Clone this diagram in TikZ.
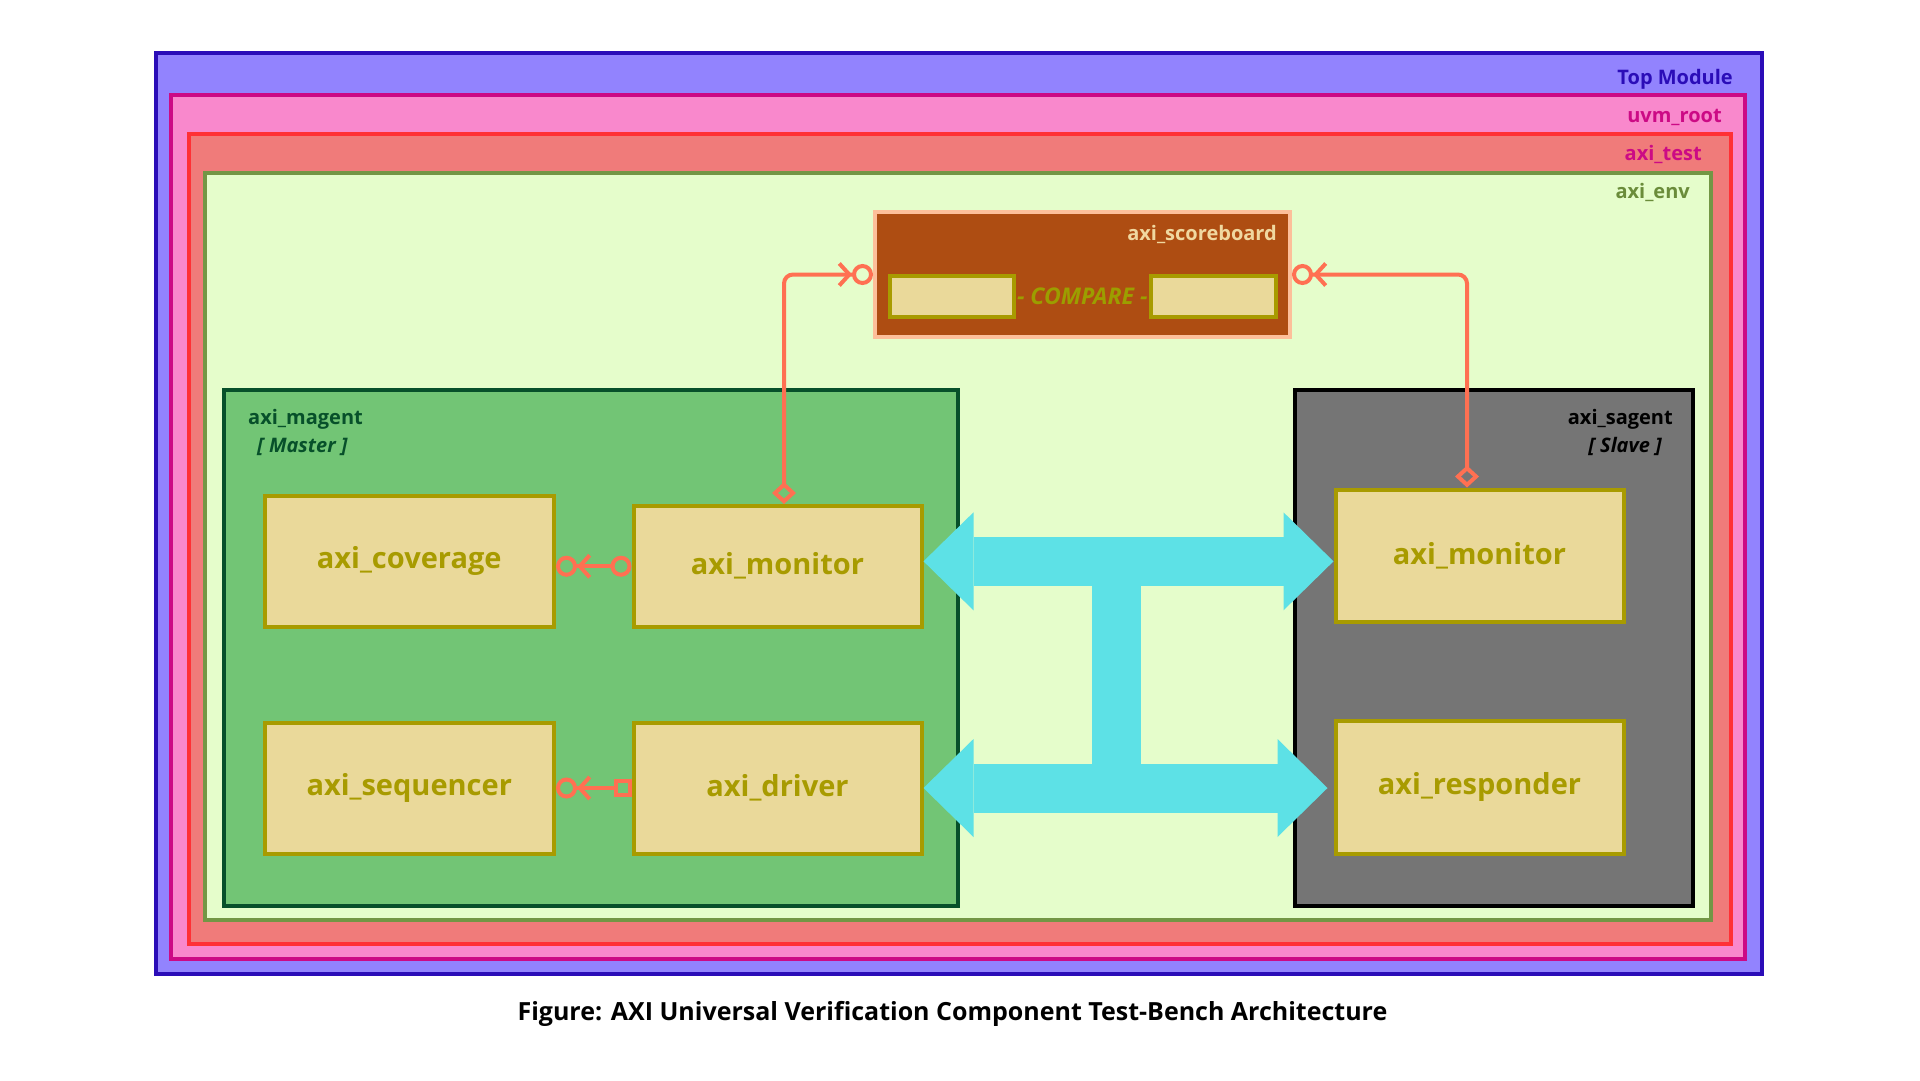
\documentclass[tikz,border=0pt]{standalone}
\usepackage{fontspec}
\setmainfont{Open Sans}
\usepackage{tikz}
\usetikzlibrary{arrows.meta,positioning,calc}
\definecolor{topfill}{HTML}{9283FE}
\definecolor{topline}{HTML}{2B0DB8}
\definecolor{rootfill}{HTML}{F988CC}
\definecolor{rootline}{HTML}{CC0A85}
\definecolor{testfill}{HTML}{F07B7A}
\definecolor{testline}{HTML}{FF3035}
\definecolor{envfill}{HTML}{E5FDCB}
\definecolor{envline}{HTML}{739645}
\definecolor{envtext}{HTML}{6A8C3A}
\definecolor{sbfill}{HTML}{AE4D12}
\definecolor{sbline}{HTML}{FDBF9A}
\definecolor{sbtext}{HTML}{F0D8A0}
\definecolor{mafill}{HTML}{72C575}
\definecolor{maline}{HTML}{07502A}
\definecolor{safill}{HTML}{757575}
\definecolor{compfill}{HTML}{EAD99A}
\definecolor{compline}{HTML}{A89B00}
\definecolor{cmptext}{HTML}{9C9E00}
\definecolor{linkc}{HTML}{FF7052}
\definecolor{busc}{HTML}{5DE1E6}
\newcommand{\framefont}{\fontsize{20}{24}\selectfont\bfseries}
\newcommand{\cmpfont}{\fontsize{23}{27}\selectfont\bfseries\itshape}
\newcommand{\boxfont}{\fontsize{29}{34}\selectfont\bfseries}
\newcommand{\capfont}{\fontsize{25}{30}\selectfont\bfseries}
\tikzset{conn/.style = {
    draw=linkc,
    line width=4pt,
    rounded corners=9pt,
  }
}
\tikzset{bus/.style = {
    draw=busc,
    line width=49pt,
    {Triangle[line width'=0pt, length=50pt, width=98pt]}-{Triangle[line width'=0pt, length=50pt, width=98pt]},
  }
}

\begin{document}
\begin{tikzpicture}[x=1pt, y=-1pt]
  \useasboundingbox[fill=white] (0,0) rectangle (1920,1080);
  % vertices
  \tikzstyle{frame} = [rectangle, draw, line width=4pt, inner sep=0pt]
  \tikzstyle{framelabel} = [anchor=base east, inner sep=0pt, font=\framefont]
  \tikzstyle{component} = [rectangle, draw=compline, fill=compfill, line width=4pt, minimum width=288pt, text=compline, font=\boxfont]
  \tikzstyle{slot} = [rectangle, draw=compline, fill=compfill, line width=4pt, minimum height=41pt]

  \node[frame, fill=topfill, draw=topline, minimum width=1606.5pt, minimum height=920.5pt] (top) at (958.75,513.25) {};
  \node[framelabel, text=topline] (toplabel) at (1733,84) {Top Module};

  \node[frame, fill=rootfill, draw=rootline, minimum width=1574pt, minimum height=864pt] (root) at (958,527) {};
  \node[framelabel, text=rootline] (rootlabel) at (1722,122) {uvm\_root};

  \node[frame, fill=testfill, draw=testline, minimum width=1542pt, minimum height=810pt] (test) at (960,539) {};
  \node[framelabel, text=rootline] (testlabel) at (1702,160) {axi\_test};

  \node[frame, fill=envfill, draw=envline, minimum width=1505.5pt, minimum height=746.5pt] (env) at (957.75,546.25) {};
  \node[framelabel, text=envtext] (envlabel) at (1690,198) {axi\_env};

  \node[frame, fill=sbfill, draw=sbline, minimum width=415pt, minimum height=125pt] (sb) at (1082.5,274.5) {};
  \node[framelabel, text=sbtext] (sblabel) at (1277,240) {axi\_scoreboard};
  \node[slot, minimum width=124pt] (cmpL) at (952,296.5) {};
  \node[slot, minimum width=125pt] (cmpR) at (1213,296.5) {};
  \node[inner sep=0pt, text=cmptext, font=\cmpfont] (cmp) at ($(cmpL.east)!0.5!(cmpR.west)$) {- COMPARE -};

  \node[frame, fill=mafill, draw=maline, minimum width=734pt, minimum height=516.5pt] (magent) at (591,647.75) {};
  \node[anchor=base west, inner sep=0pt, text=maline, font=\framefont] (malabel) at (248,424) {axi\_magent};
  \node[anchor=base west, inner sep=0pt, text=maline, font=\framefont\itshape] (marole) at (257,452) {[ Master ]};

  \node[frame, fill=safill, draw=black, minimum width=397.5pt, minimum height=516.5pt] (sagent) at (1493.75,647.75) {};
  \node[framelabel, text=black] (salabel) at (1673,424) {axi\_sagent};
  \node[framelabel, text=black, font=\framefont\itshape] (sarole) at (1662,452) {[ Slave ]};

  \node[component, minimum width=289.5pt, minimum height=130.5pt] (cov)  at (409.25,561.25) {axi\_coverage};
  \node[component, minimum height=120.5pt] (mmon) at (777.5,566.25) {axi\_monitor};
  \node[component, minimum width=289.5pt, minimum height=131pt] (seq)  at (409.25,788) {axi\_sequencer};
  \node[component, minimum height=131pt] (drv)  at (777.5,788) {axi\_driver};
  \node[component, minimum height=132.5pt] (smon) at (1479.5,555.75) {axi\_monitor};
  \node[component, minimum height=132.5pt] (resp) at (1479.5,787.25) {axi\_responder};

  % edges
  \draw[conn, {Turned Square[open, length=22pt, width=24pt]}-{Straight Barb[length=10pt, width=22pt] Circle[open, length=21pt]}] ([xshift=6.5pt]mmon.north) |- (sb.west);
  \draw[conn, {Turned Square[open, length=22pt, width=24pt]}-{Straight Barb[length=10pt, width=22pt] Circle[open, length=21pt]}] ([xshift=-12.5pt]smon.north) |- (sb.east);
  \draw[conn, {Circle[open, length=21pt]}-{Straight Barb[length=10pt, width=22pt] Circle[open, length=21pt]}] (mmon.west) -- (mmon.west -| cov.east);
  \draw[conn, {Square[open, length=18pt, width=18pt]}-{Straight Barb[length=10pt, width=22pt] Circle[open, length=21pt]}] (drv.west) -- (seq.east);

  % bus
  \coordinate (busU) at ($(mmon.east)!0.47!(smon.west)$);
  \draw[draw=busc, line width=49pt] (busU) -- (busU |- drv.east);
  \draw[bus] (mmon.east |- busU) -- (smon.west |- busU);
  \draw[bus, shorten >=6pt] (drv.east) -- (resp.west |- drv.east);

  \node[anchor=base, inner sep=0pt, font=\capfont] (caption) at (952.5,1020) {Figure: AXI Universal Verification Component Test-Bench Architecture};
\end{tikzpicture}
\end{document}
